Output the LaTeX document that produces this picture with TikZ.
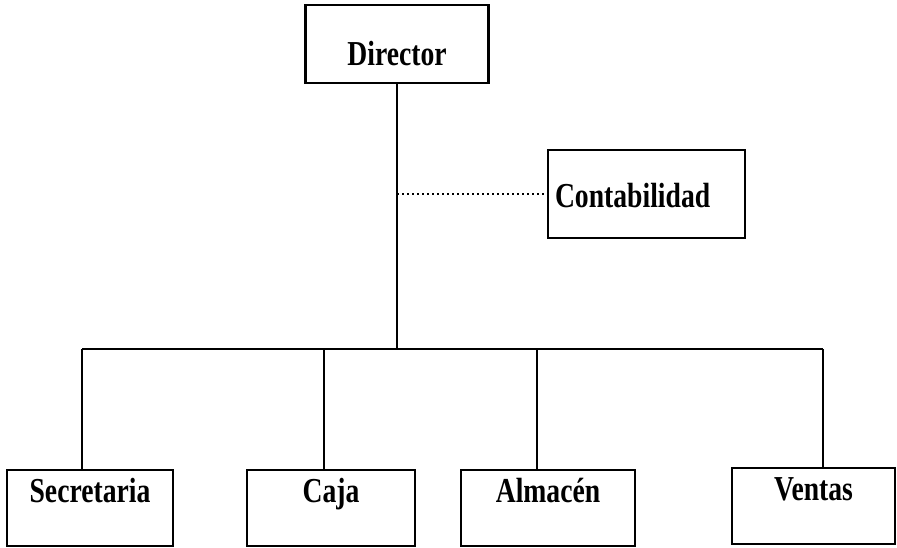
\documentclass[tikz,border=0pt]{standalone}
\usepackage{fontspec}
\setmainfont{Liberation Serif}[FakeStretch=0.79]
\usetikzlibrary{calc}

\begin{document}
\begin{tikzpicture}[x=1pt,y=-1pt,line width=2.2pt,
   puesto/.style={draw,inner sep=0pt,font=\bfseries\fontsize{35}{40}\selectfont,
      text height=32pt,text depth=44pt,minimum width=#1},
   puesto/.default=165pt,
   punteado/.style={line width=1.6pt,dash pattern=on 1.6pt off 3.4pt}]
   \useasboundingbox (0,0) rectangle (897,547);

   \node[puesto=183pt,text height=60pt,text depth=18pt] (director) at (397,44) {Director};
   \node[puesto,text width=183pt,align=left,inner xsep=7pt,
      text height=57pt,text depth=31pt] (conta) at (646.5,194) {Contabilidad};

   \node[puesto=166pt] (secre)   at (90,508)    {Secretaria};
   \node[puesto=168pt] (caja)    at (331,508)   {Caja};
   \node[puesto=174pt] (almacen) at (548,508)   {Almacén};
   \node[puesto=163pt] (ventas)  at (813.5,506) {Ventas};

   \coordinate (bus) at (397,349);
   \draw (director) -- (director |- bus);
   \draw[punteado] (conta.west -| bus) -- (conta.west);

   \foreach \n/\x in {secre/82,caja/324,almacen/537,ventas/823} {
      \coordinate (b-\n) at (\x,349);
      \draw (b-\n) -- (b-\n |- \n.north);
   }
   \draw (b-secre) -- (b-ventas);
\end{tikzpicture}
\end{document}
